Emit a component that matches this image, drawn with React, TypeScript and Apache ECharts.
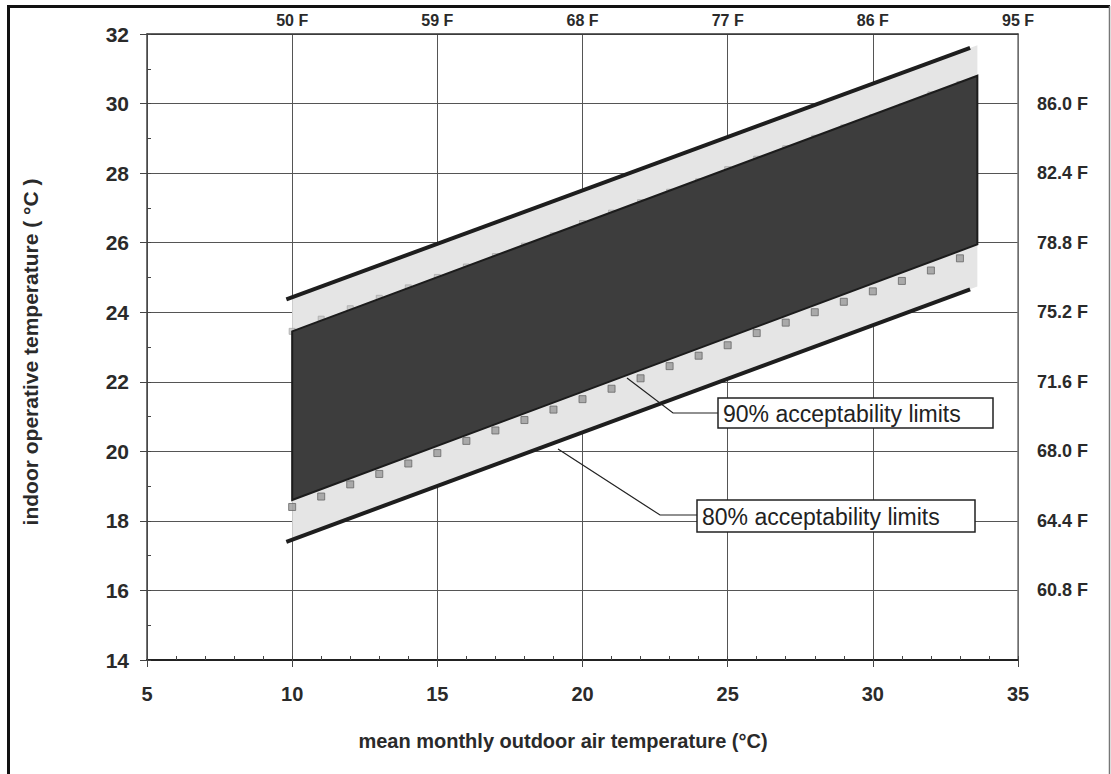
import React, { useEffect, useRef } from "react";
import * as echarts from "echarts";

// ---- data (°C) ----
const xTickValuesC = [5, 10, 15, 20, 25, 30, 35];
const topFahrenheitLabels = ["", "50 F", "59 F", "68 F", "77 F", "86 F", "95 F"];
const rightFahrenheitLabels = ["", "60.8 F", "64.4 F", "68.0 F", "71.6 F", "75.2 F", "78.8 F", "82.4 F", "86.0 F", ""];

// 80% acceptability band (light dotted area) corners [x, y]
const band80: number[][] = [[10, 17.46], [33.6, 24.74], [33.6, 31.68], [10, 24.43]];
// 90% acceptability band (dark area) corners [x, y]
const band90: number[][] = [[10, 18.6], [33.6, 25.95], [33.6, 30.8], [10, 23.45]];
// 80% limit lines
const upper80Line: number[][] = [[9.8, 24.37], [33.35, 31.6]];
const lower80Line: number[][] = [[9.8, 17.4], [33.35, 24.66]];
// 90% limit square markers
const markerX = [10, 11, 12, 13, 14, 15, 16, 17, 18, 19, 20, 21, 22, 23, 24, 25, 26, 27, 28, 29, 30, 31, 32, 33];
const lower90Markers = [18.4, 18.7, 19.05, 19.35, 19.65, 19.95, 20.3, 20.6, 20.9, 21.2, 21.5, 21.8, 22.1, 22.45, 22.75, 23.05, 23.4, 23.7, 24.0, 24.3, 24.6, 24.9, 25.2, 25.55];
const upper90Markers = [23.45, 23.8, 24.1, 24.4, 24.7, 25.0, 25.3, 25.6, 25.9, 26.2, 26.55, 26.85, 27.15, 27.45, 27.75, 28.1, 28.4, 28.7, 29.0, 29.3, 29.6, 29.9, 30.25, 30.55];

const FONT = "'Liberation Sans', Arial, Helvetica, sans-serif";

function polygonSeries(points: number[][], fill: string, stroke: string | null, lineWidth: number, z: number) {
  return {
    type: "custom",
    xAxisIndex: 0,
    yAxisIndex: 0,
    z,
    silent: true,
    data: [points[0]],
    renderItem: (params: any, api: any) => {
      if (params.dataIndex !== 0) return null;
      const pts = points.map((p) => api.coord(p));
      return {
        type: "polygon",
        shape: { points: pts },
        style: { fill, stroke: stroke || undefined, lineWidth, lineJoin: "miter" },
      };
    },
  };
}

export default function App() {
  const ref = useRef<HTMLDivElement>(null);
  useEffect(() => {
    if (!ref.current) return;
    const chart = echarts.init(ref.current, undefined, { renderer: "svg" });
    const tickFont = { fontFamily: FONT, fontWeight: "bold" as const, color: "#2a2a2a" };
    chart.setOption({
      animation: false,
      backgroundColor: "#ffffff",
      grid: { left: 147, right: 93, top: 34, bottom: 114 },
      xAxis: [
        {
          type: "value", position: "bottom", min: 5, max: 35, interval: 5,
          axisLine: { show: true, lineStyle: { color: "#222", width: 2 } },
          axisTick: { show: true, inside: false, length: 7, lineStyle: { color: "#444", width: 1 } },
          axisLabel: { ...tickFont, fontSize: 20, margin: 24, formatter: (v: number) => (xTickValuesC.includes(v) ? String(v) : "") },
          splitLine: { show: true, lineStyle: { color: "#555", width: 1 } },
        },
        {
          type: "value", position: "top", min: 5, max: 35, interval: 5,
          axisLine: { show: true, lineStyle: { color: "#333", width: 1.5 } },
          axisTick: { show: false },
          axisLabel: { ...tickFont, fontSize: 16, margin: 6, formatter: (v: number) => topFahrenheitLabels[Math.round((v - 5) / 5)] || "" },
          splitLine: { show: false },
        },
        {
          type: "value", position: "bottom", min: 5, max: 35, interval: 1,
          axisLine: { show: false },
          axisTick: { show: true, inside: true, length: 4, lineStyle: { color: "#444", width: 1 } },
          axisLabel: { show: false },
          splitLine: { show: false },
        },
      ],
      yAxis: [
        {
          type: "value", position: "left", min: 14, max: 32, interval: 2,
          axisLine: { show: true, lineStyle: { color: "#444", width: 1.5 } },
          axisTick: { show: true, inside: false, length: 7, lineStyle: { color: "#444", width: 1 } },
          axisLabel: { ...tickFont, fontSize: 21, margin: 18 },
          splitLine: { show: true, lineStyle: { color: "#555", width: 1 } },
        },
        {
          type: "value", position: "right", min: 14, max: 32, interval: 2,
          axisLine: { show: true, lineStyle: { color: "#777", width: 1.5 } },
          axisTick: { show: false },
          axisLabel: { ...tickFont, fontSize: 18, margin: 19, formatter: (v: number) => rightFahrenheitLabels[Math.round((v - 14) / 2)] || "" },
          splitLine: { show: false },
        },
        {
          type: "value", position: "left", min: 14, max: 32, interval: 1,
          axisLine: { show: false },
          axisTick: { show: true, inside: true, length: 4, lineStyle: { color: "#444", width: 1 } },
          axisLabel: { show: false },
          splitLine: { show: false },
        },
      ],
      series: [
        polygonSeries(band80, "#e5e5e5", null, 0, 2),
        {
          type: "scatter", xAxisIndex: 0, yAxisIndex: 0, z: 3, silent: true,
          symbol: "rect", symbolSize: 6,
          itemStyle: { color: "#c4c4c4", borderColor: "#aaa", borderWidth: 1 },
          data: markerX.map((x, i) => [x, upper90Markers[i]]),
        },
        polygonSeries(band90, "#3d3d3d", "#1c1c1c", 2, 4),
        {
          type: "scatter", xAxisIndex: 0, yAxisIndex: 0, z: 5, silent: true,
          symbol: "rect", symbolSize: 7,
          itemStyle: { color: "#9a9a9a", borderColor: "#666", borderWidth: 1 },
          data: markerX.map((x, i) => [x, lower90Markers[i]]),
        },
        {
          type: "line", xAxisIndex: 0, yAxisIndex: 0, z: 6, silent: true, showSymbol: false,
          lineStyle: { color: "#1e1e1e", width: 4 }, data: upper80Line,
        },
        {
          type: "line", xAxisIndex: 0, yAxisIndex: 0, z: 6, silent: true, showSymbol: false,
          lineStyle: { color: "#1e1e1e", width: 4 }, data: lower80Line,
        },
      ],
      graphic: [
        // outer frame
        { type: "line", shape: { x1: 8.5, y1: 6, x2: 8.5, y2: 774 }, style: { stroke: "#111", lineWidth: 3 } },
        { type: "line", shape: { x1: 7, y1: 6.5, x2: 1110, y2: 6.5 }, style: { stroke: "#111", lineWidth: 3 } },
        { type: "line", shape: { x1: 1109.5, y1: 6, x2: 1109.5, y2: 774 }, style: { stroke: "#777", lineWidth: 1.5 } },
        // axis titles
        {
          type: "text", x: 30, y: 352, rotation: Math.PI / 2,
          style: { text: "indoor operative temperature ( °C )", font: `bold 21px ${FONT}`, fill: "#2a2a2a", align: "center", verticalAlign: "middle" },
        },
        {
          type: "text", x: 563, y: 741,
          style: { text: "mean monthly outdoor air temperature (°C)", font: `bold 20px ${FONT}`, fill: "#2a2a2a", align: "center", verticalAlign: "middle" },
        },
        // 90% annotation
        { type: "polyline", z: 20, shape: { points: [[627, 378], [673, 413], [718, 413]] }, style: { stroke: "#222", lineWidth: 1.2, fill: null } },
        { type: "rect", z: 20, shape: { x: 718, y: 398, width: 275, height: 30 }, style: { fill: "#fff", stroke: "#222", lineWidth: 1.5 } },
        { type: "text", z: 21, x: 723, y: 414, style: { text: "90% acceptability limits", font: `23px ${FONT}`, fill: "#222", verticalAlign: "middle" } },
        // 80% annotation
        { type: "polyline", z: 20, shape: { points: [[558, 449], [660, 515], [697, 515]] }, style: { stroke: "#222", lineWidth: 1.2, fill: null } },
        { type: "rect", z: 20, shape: { x: 697, y: 500, width: 278, height: 32 }, style: { fill: "#fff", stroke: "#222", lineWidth: 1.5 } },
        { type: "text", z: 21, x: 702, y: 517, style: { text: "80% acceptability limits", font: `23px ${FONT}`, fill: "#222", verticalAlign: "middle" } },
      ],
    });
    return () => chart.dispose();
  }, []);
  return <div ref={ref} style={{ position: "absolute", left: 0, top: 0, width: 1111, height: 774 }} />;
}
